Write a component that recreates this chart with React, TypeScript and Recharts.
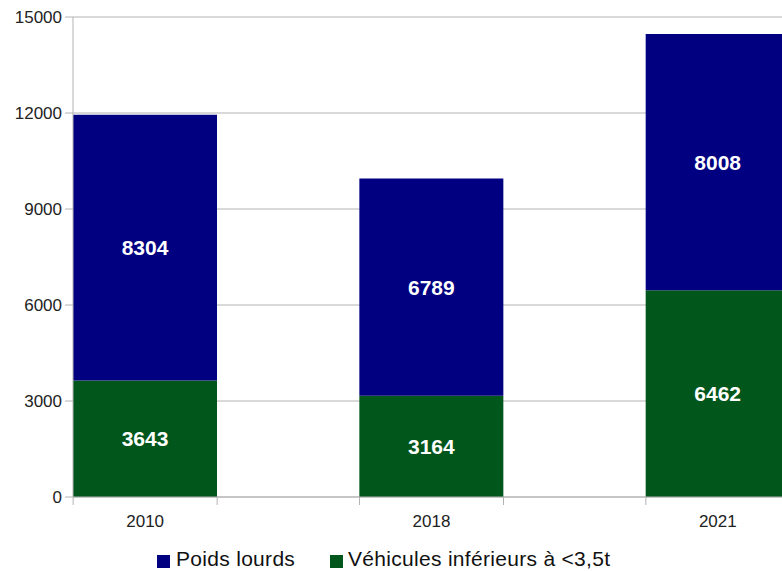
import React from 'react';
import { BarChart, Bar, XAxis, YAxis, CartesianGrid, LabelList, Legend } from 'recharts';

const years = ['2010', '2018', '2021'];
const poidsLourds = [8304, 6789, 8008];
const vehiculesLegers = [3643, 3164, 6462];
const yTicks = [0, 3000, 6000, 9000, 12000, 15000];

const seriesNames = { poids: 'Poids lourds', vl: 'Véhicules inférieurs à <3,5t' };
const colors = { poids: '#000080', vl: '#00561b' };

const data = years.map((y, i) => ({ year: y, poids: poidsLourds[i], vl: vehiculesLegers[i] }));

const FONT = '"Liberation Sans", Arial, sans-serif';
const GRID = '#b3b3b3';

const XTick = (props: any) => {
  const { x, y, payload } = props;
  const axisY = y - 12;
  const half = 72;
  return (
    <g>
      <line x1={x - half} x2={x - half} y1={axisY} y2={axisY + 8} stroke={GRID} />
      <line x1={x + half} x2={x + half} y1={axisY} y2={axisY + 8} stroke={GRID} />
      <text x={x} y={axisY + 30} textAnchor="middle" fontSize={17} fontFamily={FONT} fill="#222">
        {payload.value}
      </text>
    </g>
  );
};

const LegendContent = () => (
  <div style={{ position: 'relative', width: 782, height: 22, fontFamily: FONT, fontSize: 21, color: '#111' }}>
    <div style={{ position: 'absolute', left: 157, top: 7, width: 13, height: 13, background: colors.poids }} />
    <div style={{ position: 'absolute', left: 176, top: 0, height: 22, lineHeight: '22px', whiteSpace: 'nowrap', letterSpacing: 0.3 }}>{seriesNames.poids}</div>
    <div style={{ position: 'absolute', left: 330, top: 7, width: 13, height: 13, background: colors.vl }} />
    <div style={{ position: 'absolute', left: 348, top: 0, height: 22, lineHeight: '22px', whiteSpace: 'nowrap', letterSpacing: 0.3 }}>{seriesNames.vl}</div>
  </div>
);

export default function App() {
  return (
    <div style={{ position: 'absolute', left: 0, top: 0, width: 782, height: 571, overflow: 'hidden', background: '#fff' }}>
      <BarChart
        width={861}
        height={571}
        data={data}
        margin={{ top: 17, right: 0, bottom: 0, left: 0 }}
        barCategoryGap="24.8%"
      >
        <CartesianGrid vertical={false} stroke={GRID} />
        <XAxis
          dataKey="year"
          height={74}
          tickSize={8}
          tickMargin={4}
          tickLine={false}
          axisLine={{ stroke: GRID }}
          tick={<XTick />}
          interval={0}
          padding={{ left: -71, right: 0 }}
        />
        <YAxis
          width={73}
          domain={[0, 15000]}
          ticks={yTicks}
          tickSize={8}
          tickMargin={3}
          axisLine={{ stroke: GRID }}
          tickLine={{ stroke: GRID }}
          tick={{ fontSize: 17, fontFamily: FONT, fill: '#222' }}
          interval={0}
        />
        <Legend
          layout="horizontal"
          verticalAlign="middle"
          align="center"
          content={<LegendContent />}
          wrapperStyle={{ top: 548, left: 0, width: 782, height: 22 }}
        />
        <Bar dataKey="vl" stackId="a" fill={colors.vl} isAnimationActive={false} name={seriesNames.vl}>
          <LabelList dataKey="vl" position="center" fill="#fff" fontSize={21} fontWeight="bold" fontFamily={FONT} />
        </Bar>
        <Bar dataKey="poids" stackId="a" fill={colors.poids} isAnimationActive={false} name={seriesNames.poids}>
          <LabelList dataKey="poids" position="center" fill="#fff" fontSize={21} fontWeight="bold" fontFamily={FONT} />
        </Bar>
      </BarChart>
    </div>
  );
}
